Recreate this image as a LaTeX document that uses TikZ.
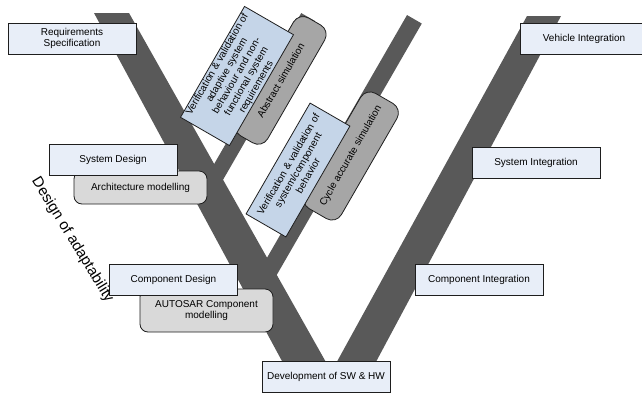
\documentclass[tikz,border=0pt]{standalone}
\usepackage{fontspec}
\setmainfont{Liberation Sans}
\setsansfont{Liberation Sans}
\definecolor{band}{RGB}{89,89,89}
\definecolor{paleblue}{RGB}{232,238,248}
\definecolor{steelblue}{RGB}{197,213,232}
\definecolor{lgray}{RGB}{217,217,217}
\definecolor{mgray}{RGB}{166,166,166}
\definecolor{edge}{RGB}{30,30,30}
\begin{document}
\begin{tikzpicture}[x=1pt,y=-1pt,
  phase/.style={draw=edge, line width=0.8pt, fill=paleblue, minimum width=128pt,
    minimum height=31pt, inner sep=2pt, align=center,
    font=\fontsize{10}{11.5}\selectfont},
  model/.style={draw=edge, line width=0.8pt, fill=lgray, rounded corners=8pt,
    inner sep=2pt, align=center, font=\fontsize{10}{11.5}\selectfont},
  simbox/.style={draw=edge, line width=0.8pt, fill=mgray, rounded corners=11pt,
    rotate=60, inner sep=2pt, align=center, font=\fontsize{10}{11.5}\selectfont},
  vvbox/.style={draw=edge, line width=0.8pt, fill=steelblue, rotate=60,
    minimum width=128pt, inner sep=1pt, align=center,
    font=\fontsize{10}{11.3}\selectfont},
  bandline/.style={draw=band, line cap=butt}]
\useasboundingbox (0,0) rectangle (642,397);
\fill[white] (0,0) rectangle (642,397);

% the V of the process and the two verification branches
\fill[band] (94,13) -- (129,13) -- (331.4,371.8) -- (527,16) -- (561,16)
  -- (363.6,385) -- (294.9,385) -- cycle;
\draw[bandline, line width=15.6pt] (308,17) -- (211,185);
\draw[bandline, line width=17pt] (414.4,19.3) -- (264,280);

% simulation levels
\node[simbox, minimum width=136pt, minimum height=36pt] (abstract) at (280.6,80.4) {Abstract simulation};
\node[simbox, minimum width=133pt, minimum height=42pt] (cycle) at (351,156) {Cycle accurate simulation};

% verification and validation steps
\node[vvbox, minimum height=56pt] (vvsys) at (237,76)
  {Verification \& validation of\\adaptive system\\behaviour and non-\\functional system\\requirements};
\node[vvbox, minimum height=46pt] (vvcomp) at (298,170)
  {Verification \& validation of\\system/component\\behavior};

% modelling activities
\node[model, minimum width=133pt, minimum height=33pt] (arch) at (140.5,187.5) {Architecture modelling};
\node[model, minimum width=133pt, minimum height=43pt] (autosar) at (206.5,310.5) {AUTOSAR Component\\modelling};

% development phases
\node[phase] (req) at (72,38.5) {Requirements\\Specification};
\node[phase] (sysdes) at (113,159.5) {System Design};
\node[phase] (compdes) at (173.5,280) {Component Design};
\node[phase] (dev) at (326,376.5) {Development of SW \& HW};
\node[phase] (compint) at (479,280) {Component Integration};
\node[phase] (sysint) at (536,163) {System Integration};
\node[phase] (vehint) at (584,38.5) {Vehicle Integration};

\node[rotate=-58.5, font=\fontsize{15}{18}\selectfont, inner sep=0pt] (adapt) at (72.5,240) {Design of adaptability};
\end{tikzpicture}
\end{document}
